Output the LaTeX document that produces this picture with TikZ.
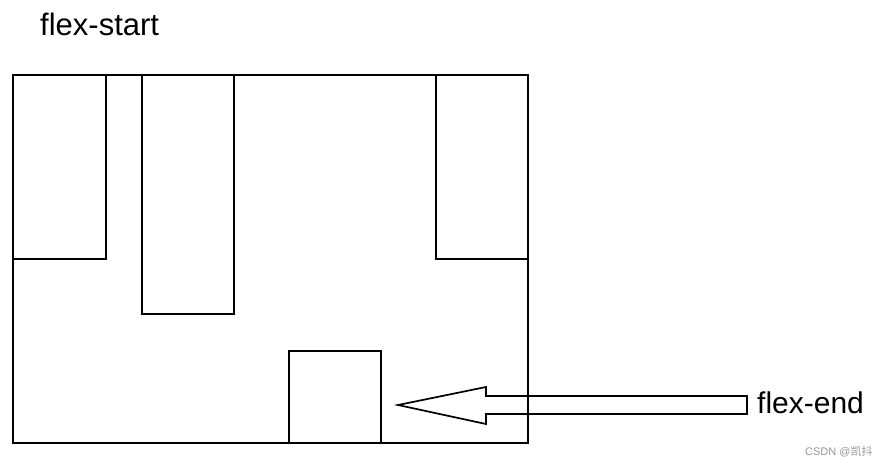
\documentclass[tikz,border=0pt]{standalone}
\usepackage{fontspec}
\setmainfont{Liberation Sans}
\newfontfamily\cjk{Noto Sans CJK SC}
\definecolor{markgray}{RGB}{150,150,150}
\tikzset{
    frame/.style={draw, line width=1.7pt, inner sep=0, anchor=north west},
    item/.style={draw, line width=1.7pt, inner sep=0, anchor=north west, minimum width=92pt},
    label/.style={font=\fontsize{30}{31}\selectfont, inner sep=0, anchor=base west},
    hollow/.style={draw, line width=1.7pt, line join=miter},
}

\begin{document}
\begin{tikzpicture}[x=1pt, y=-1pt]
    \useasboundingbox (0,0) rectangle (888,466);
    \node[label, font=\fontsize{31}{32}\selectfont] (start) at (40,35) {flex-start};
    \node[frame, minimum width=515pt, minimum height=368pt] (box) at (12,74) {};
    \node[item, minimum width=93pt, minimum height=184pt] (a) at (box.north west) {};
    \node[item, minimum height=239pt] (b) at (141,74) {};
    \node[item, minimum height=184pt, anchor=north east] (c) at (box.north east) {};
    \node[item, minimum height=92pt] (d) at (288,350) {};
    \node[label] (end) at (757,413) {flex-end};
    \coordinate (tip) at (398,405);
    \draw[hollow] (tip) -- (486,387) -- (486,396) -- (747,396) -- (747,414)
        -- (486,414) -- (486,424) -- cycle;
    \node[anchor=base west, inner sep=0, text=markgray, font=\fontsize{11}{12}\selectfont] (mark) at (805,455) {CSDN @{\cjk 凯抖}};
\end{tikzpicture}
\end{document}
